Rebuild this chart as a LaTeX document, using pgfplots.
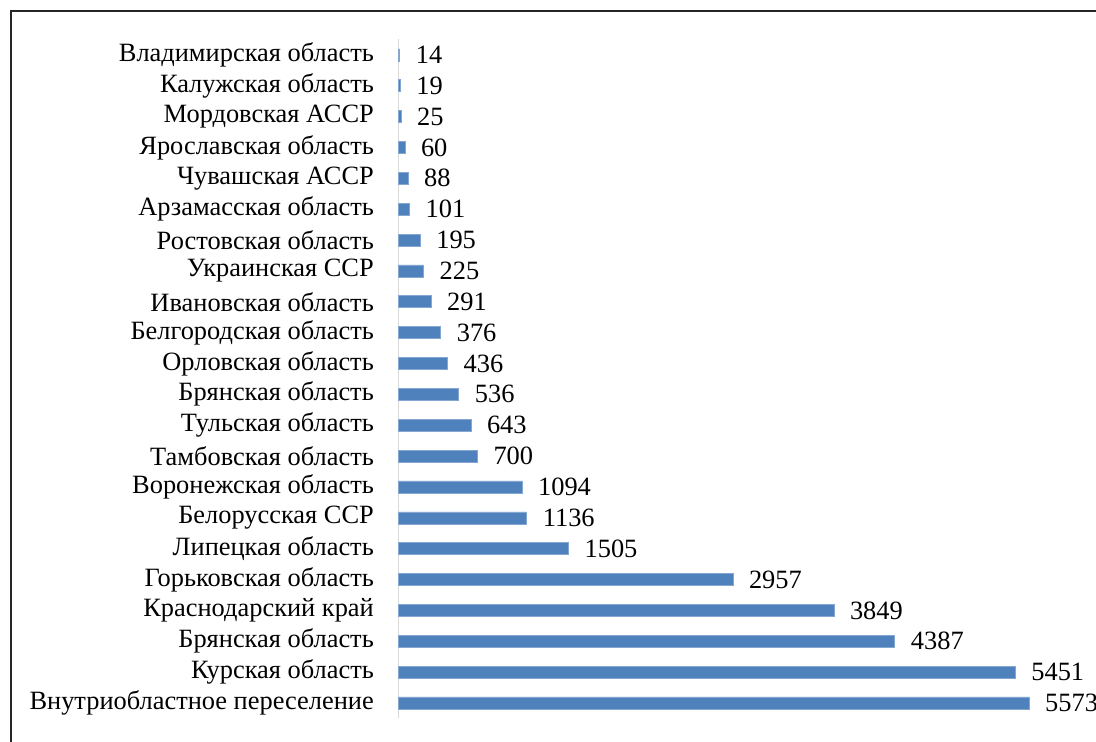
\documentclass[border=0pt]{standalone}
\usepackage{fontspec}
\setmainfont{Liberation Serif}
\usepackage{pgfplots}
\pgfplotsset{compat=1.18}
\definecolor{barblue}{HTML}{4F81BD}
\definecolor{axisgray}{HTML}{D9D9D9}
\begin{document}
\begin{tikzpicture}[font=\fontsize{26.5}{30}\selectfont]
\useasboundingbox (0,0) rectangle (1096bp,742bp);
\draw[line width=1.6bp, black!85] (11bp,-5bp) -- (11bp,731bp) -- (1100bp,731bp);
\begin{axis}[
  at={(398bp,23.6bp)}, anchor=south west,
  scale only axis, width=679.3bp, height=679bp,
  xbar, bar width=12bp,
  xmin=0, xmax=6000, ymin=-0.5, ymax=21.5,
  axis x line=none,
  axis y line*=left,
  y axis line style={axisgray, line width=1bp, -},
  ytick={0,...,21}, major tick length=0pt,
  yticklabels={Внутриобластное переселение, Курская область, Брянская область, Краснодарский край, Горьковская область, Липецкая область, Белорусская ССР, Воронежская область, Тамбовская область, Тульская область, Брянская область, Орловская область, Белгородская область, Ивановская область, Украинская ССР, Ростовская область, Арзамасская область, Чувашская АССР, Ярославская область, Мордовская АССР, Калужская область, Владимирская область},
  yticklabel style={anchor=east, inner sep=0pt, xshift=-24bp, font=\fontsize{26.5}{30}\selectfont},
  nodes near coords,
  every node near coord/.append style={anchor=west, inner sep=0pt, xshift=16bp, black, font=\fontsize{26.5}{30}\selectfont},
  /pgf/number format/1000 sep={},
  /pgf/number format/assume math mode=true,
  clip=false,
]
\addplot[fill=barblue, draw=barblue!70!white, line width=0.5bp] coordinates {
(5573,0) (5451,1) (4387,2) (3849,3) (2957,4) (1505,5) (1136,6) (1094,7) (700,8) (643,9) (536,10) (436,11) (376,12) (291,13) (225,14) (195,15) (101,16) (88,17) (60,18) (25,19) (19,20) (14,21)
};
\end{axis}
\end{tikzpicture}
\end{document}
